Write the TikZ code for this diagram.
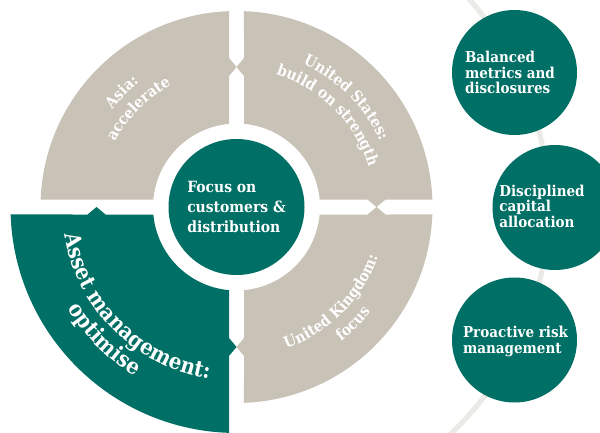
\documentclass[tikz,border=0pt]{standalone}
\usepackage{fontspec}
\setmainfont{DejaVu Serif Condensed}
\usetikzlibrary{decorations.text}
\definecolor{mgreen}{HTML}{006F65}
\definecolor{mgrey}{HTML}{C8C2B7}
\definecolor{arcgrey}{HTML}{ECEAE7}
\tikzset{
  core/.style={circle, fill=mgreen, minimum size=136pt, inner sep=0pt, text=white, align=left,
    font=\fontsize{15.5}{20}\selectfont\bfseries},
  pillar/.style={circle, fill=mgreen, minimum size=125pt, inner sep=0pt},
  pillartext/.style={text=white, align=left, inner sep=0pt, font=\fontsize{15}{15.5}\selectfont\bfseries},
  arctext/.style={decorate, decoration={text along path, text align=center, text color=white,
    text={|\fontsize{15.5}{18}\selectfont\bfseries|#1}}},
  bigarctext/.style={decorate, decoration={text along path, text align=center, text color=white,
    text={|\fontsize{22}{24}\selectfont\bfseries|#1}}}
}
\begin{document}
\begin{tikzpicture}[x=1pt,y=1pt]
\useasboundingbox (0,0) rectangle (600,432);
\fill[white] (0,0) rectangle (600,432);
% faint arc behind the right circles
\draw[arcgrey, line width=5] ([shift={(236.5,225)}]-52:312) arc[start angle=-52, end angle=47, radius=312];

\begin{scope}[shift={(236.5,225)}]
\def\g{7.5}
% United States (upper right)
\fill[mgrey] (84.847:83.5) -- (\g,131) -- (0,140) -- (\g,149) -- (87.807:196)
  arc[start angle=87.807, end angle=2.193, radius=196] -- (149,\g) -- (140,0) -- (131,\g)
  -- (5.153:83.5) arc[start angle=5.153, end angle=84.847, radius=83.5] -- cycle;
% Asia (upper left)
\fill[mgrey] (174.847:83.5) -- (177.807:196)
  arc[start angle=177.807, end angle=92.193, radius=196] -- (-\g,149) -- (0,140) -- (-\g,131)
  -- (95.153:83.5) arc[start angle=95.153, end angle=174.847, radius=83.5] -- cycle;
% United Kingdom (lower right)
\fill[mgrey] (275.153:83.5) -- (\g,-131) -- (0,-140) -- (\g,-149) -- (272.193:196)
  arc[start angle=272.193, end angle=357.807, radius=196] -- (149,-\g) -- (140,0) -- (131,-\g)
  -- (354.847:83.5) arc[start angle=354.847, end angle=275.153, radius=83.5] -- cycle;
% Asset management (lower left, larger)
\fill[mgreen] (185.153:83.5) -- (-131,-\g) -- (-140,0) -- (-149,-\g) -- (181.902:226)
  arc[start angle=181.902, end angle=268.098, radius=226] -- (-\g,-149) -- (0,-140) -- (-\g,-131)
  -- (264.847:83.5) arc[start angle=264.847, end angle=185.153, radius=83.5] -- cycle;

\node[core] (focus) at (0,0) {Focus on\\customers \&\\distribution};

% curved labels
\path[arctext={United States:}] (100:158) arc[start angle=100, end angle=-10, radius=158];
\path[arctext={build on strength}] (100:138) arc[start angle=100, end angle=-10, radius=138];
\path[arctext={Asia:}] (190:158) arc[start angle=190, end angle=80, radius=158];
\path[arctext={accelerate}] (190:138) arc[start angle=190, end angle=80, radius=138];
\path[arctext={United Kingdom:}] (260:150) arc[start angle=260, end angle=370, radius=150];
\path[arctext={focus}] (260:170) arc[start angle=260, end angle=370, radius=170];
\path[bigarctext={Asset management:}] (150:174) arc[start angle=150, end angle=300, radius=174];
\path[bigarctext={optimise}] (150:197) arc[start angle=150, end angle=300, radius=197];
\end{scope}

% right-hand circles
\node[pillar] (bal) at (514.5,359.5) {};
\node[pillar] (cap) at (555,224.5) {};
\node[pillar] (risk) at (514.5,92) {};
\node[pillartext] (baltext) at ([xshift=-4.5pt]bal.center) {Balanced\\metrics and\\disclosures};
\node[pillartext] (captext) at ([xshift=-13pt,yshift=1.5pt]cap.center) {Disciplined\\capital\\allocation};
\node[pillartext] (risktext) at ([xshift=1pt,yshift=-1.5pt]risk.center) {Proactive risk\\management};
\end{tikzpicture}
\end{document}
